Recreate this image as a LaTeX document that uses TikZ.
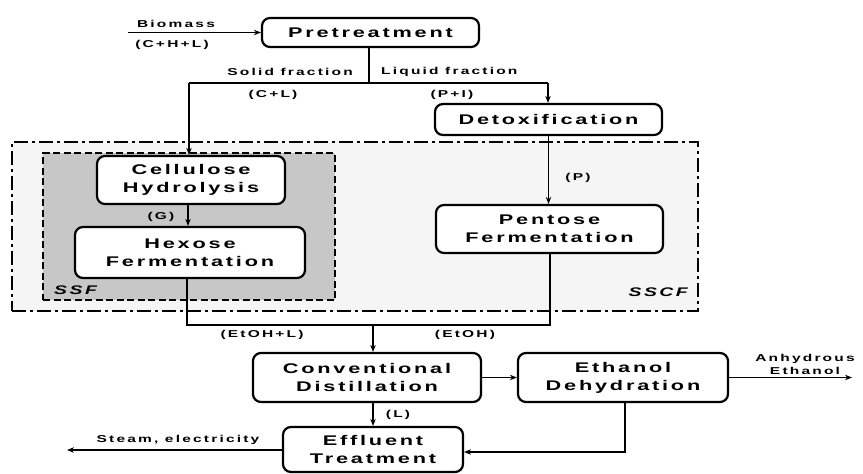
\documentclass[tikz,border=0pt]{standalone}
\usepackage{fontspec}
\setmainfont{Liberation Sans}
% wide, letter-spaced sans used for every label of the flow sheet
\newfontfamily\flowfont[FakeStretch=1.55,LetterSpace=20]{Liberation Sans}
\newfontfamily\smallflowfont[FakeStretch=1.55,LetterSpace=22]{Liberation Sans}
\usetikzlibrary{arrows.meta}
\begin{document}
\begin{tikzpicture}[x=1pt,y=-1pt,
  proc/.style={draw, line width=2.2pt, rounded corners=8pt, fill=white,
    align=center, inner sep=0pt,
    font=\flowfont\bfseries\fontsize{14}{18}\selectfont},
  lbl/.style={inner sep=0pt, align=center,
    font=\smallflowfont\bfseries\fontsize{10}{13}\selectfont},
  tag/.style={inner sep=0pt,
    font=\flowfont\bfseries\itshape\fontsize{12.5}{14}\selectfont},
  flow/.style={line width=1.6pt},
  arr/.style={flow, -{Stealth[length=7pt,width=5.5pt]}},
  sscfbox/.style={draw, line width=1.8pt, fill=black!4,
    dash pattern=on 14pt off 4pt on 3pt off 4pt, inner sep=0pt},
  ssfbox/.style={draw, line width=2.6pt, fill=black!22,
    dash pattern=on 7pt off 3.5pt, inner sep=0pt},
]
\useasboundingbox (0,0) rectangle (863,474);

% process groupings
\node[sscfbox, minimum width=686pt, minimum height=169pt] (sscf) at (355,226.5) {};
\node[ssfbox, minimum width=292pt, minimum height=147pt] (ssf) at (189,226.5) {};
\node[tag, anchor=west] (ssftag) at (54,290) {SSF};
\node[tag, anchor=east] (sscftag) at (688,292) {SSCF};

% process steps
\node[proc, minimum width=217pt, minimum height=29pt] (pre) at (370.5,32.5) {Pretreatment};
\node[proc, minimum width=227pt, minimum height=31pt] (detox) at (548.5,119.5) {Detoxification};
\node[proc, minimum width=188pt, minimum height=48pt] (ch) at (191,180) {Cellulose\\Hydrolysis};
\node[proc, minimum width=230pt, minimum height=51pt] (hf) at (190,252.5) {Hexose\\Fermentation};
\node[proc, minimum width=227pt, minimum height=48pt] (pf) at (549.5,229) {Pentose\\Fermentation};
\node[proc, minimum width=228pt, minimum height=49pt] (cd) at (367,377.5) {Conventional\\Distillation};
\node[proc, minimum width=210pt, minimum height=49pt] (ed) at (623,377.5) {Ethanol\\Dehydration};
\node[proc, minimum width=180pt, minimum height=45pt] (et) at (373,449.5) {Effluent\\Treatment};

% junction points of the stream lines
\coordinate (bio) at (128,32.5);
\coordinate (split) at (369,83);
\coordinate (sl) at (189,83);
\coordinate (sr) at (548,83);
\coordinate (jl) at (187,325);
\coordinate (jr) at (550,325);
\coordinate (jm) at (373,325);
\coordinate (anh) at (852,377.5);
\coordinate (back) at (625,452);
\coordinate (steam) at (67,450);

% streams
\draw[arr] (bio) -- (pre.west);
\draw[flow, line width=2.6pt] (pre.south -| split) -- (split);
\draw[flow] (sl) -- (sr);
\draw[arr] (sl) -- (sl |- ch.north);
\draw[arr] (sr) -- (sr |- detox.north);
\draw[arr] (detox.south) -- (detox.south |- pf.north);
\draw[arr] (ch.south -| 188,0) -- (188,0 |- hf.north);
\draw[flow] (hf.south -| jl) -- (jl) -- (jr) -- (pf.south -| jr);
\draw[arr] (jm) -- (jm |- cd.north);
\draw[arr] (cd.east) -- (ed.west);
\draw[arr] (ed.east) -- (anh);
\draw[arr] (cd.south -| jm) -- (jm |- et.north);
\draw[arr] (back |- ed.south) -- (back) -- (back -| et.east);
\draw[arr] (et.west |- steam) -- (steam);

% stream labels
\node[lbl] (lbio) at (176,24) {Biomass};
\node[lbl] (lchl) at (172,45) {(C+H+L)};
\node[lbl, anchor=east] (lsolid) at (353,72) {Solid fraction};
\node[lbl, anchor=west] (lliq) at (381,72) {Liquid fraction};
\node[lbl] (lcl) at (273,95) {(C+L)};
\node[lbl] (lpi) at (452,95) {(P+I)};
\node[lbl] (lp) at (578,178) {(P)};
\node[lbl] (lg) at (161,217) {(G)};
\node[lbl] (letl) at (262,335) {(EtOH+L)};
\node[lbl] (leth) at (465,335) {(EtOH)};
\node[lbl] (ll) at (398,415) {(L)};
\node[lbl] (lsteam) at (178,440) {Steam, electricity};
\node[lbl] (lanh) at (805,364) {Anhydrous\\Ethanol};
\end{tikzpicture}
\end{document}
